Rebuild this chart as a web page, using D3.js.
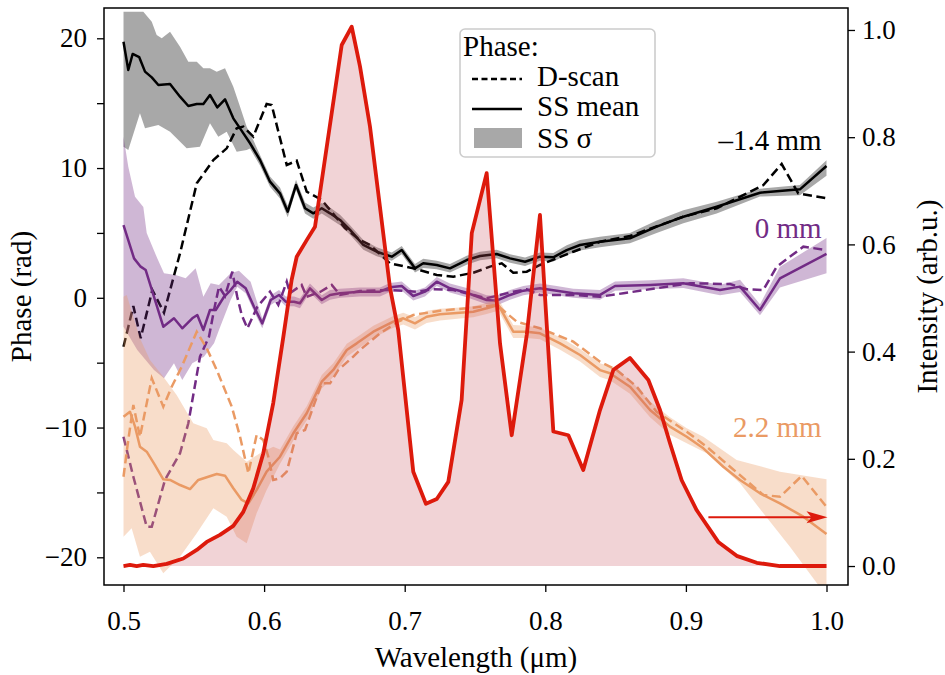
<!DOCTYPE html>
<html>
<head>
<meta charset="utf-8">
<script src="https://cdn.jsdelivr.net/npm/d3@7"></script>
<style>
html, body { margin: 0; padding: 0; background: #fff; }
svg { display: block; }
</style>
</head>
<body>
<svg id="chart" width="945" height="675"></svg>
<script>
// ticks
const wavelengthTicks = [0.5, 0.6, 0.7, 0.8, 0.9, 1.0];
const phaseTicks = [-20, -15, -10, -5, 0, 5, 10, 15, 20];
const intensityTicks = [0, 0.2, 0.4, 0.6, 0.8, 1.0];

// spectral intensity [wavelength um, intensity]
const intensity = [[0.500,0.000],[0.5046,0.002],[0.5094,0.000],[0.5140,0.002],[0.5212,0.000],[0.5307,0.004],[0.5425,0.014],[0.5521,0.030],[0.5592,0.045],[0.5686,0.058],[0.5781,0.075],[0.5852,0.101],[0.5923,0.145],[0.5994,0.210],[0.6065,0.304],[0.6137,0.428],[0.6196,0.534],[0.6232,0.577],[0.6303,0.608],[0.6362,0.633],[0.6552,0.972],[0.6623,1.006],[0.6682,0.932],[0.6753,0.820],[0.6895,0.520],[0.6954,0.440],[0.7061,0.176],[0.7151,0.116],[0.7228,0.125],[0.7310,0.157],[0.7405,0.310],[0.7477,0.621],[0.7583,0.733],[0.7678,0.415],[0.7761,0.244],[0.7868,0.431],[0.7962,0.655],[0.8057,0.251],[0.8164,0.244],[0.8270,0.179],[0.8389,0.291],[0.8484,0.366],[0.8602,0.388],[0.8733,0.347],[0.8816,0.291],[0.8887,0.229],[0.8970,0.160],[0.9077,0.104],[0.9230,0.045],[0.9361,0.019],[0.9504,0.006],[0.9669,0.000],[1.000,0.000]];

// -1.4 mm
const blackMean = [[0.500,19.74],[0.5034,17.56],[0.5065,18.79],[0.5112,18.54],[0.5153,17.43],[0.5201,16.99],[0.5248,16.40],[0.5331,16.48],[0.5402,15.50],[0.5461,14.78],[0.5521,14.94],[0.5568,14.94],[0.5615,15.63],[0.5667,14.68],[0.5722,15.30],[0.5781,13.83],[0.5829,13.06],[0.5900,11.91],[0.5971,10.62],[0.6042,8.95],[0.6113,8.05],[0.6168,6.64],[0.6227,8.69],[0.6291,6.90],[0.6350,6.51],[0.6410,6.90],[0.6469,6.51],[0.6540,6.00],[0.6611,5.23],[0.6706,4.07],[0.6801,3.55],[0.6908,3.17],[0.6979,3.68],[0.7073,2.27],[0.7132,2.66],[0.7228,2.53],[0.7322,2.27],[0.7441,2.91],[0.7536,3.22],[0.7654,3.38],[0.7749,3.04],[0.7856,2.78],[0.7962,3.17],[0.8057,3.12],[0.8152,3.68],[0.8247,4.07],[0.8389,4.32],[0.8602,4.59],[0.8792,5.48],[0.8982,6.25],[0.9219,7.02],[0.9527,8.10],[0.9811,8.36],[1.000,10.16]];
const blackDscan = [[0.500,-3.77],[0.5070,-0.63],[0.5122,-3.12],[0.5205,0.60],[0.5288,-1.15],[0.5402,3.43],[0.5521,8.82],[0.5639,10.62],[0.5734,11.52],[0.5805,13.06],[0.5852,13.19],[0.5923,12.42],[0.6018,14.94],[0.6054,14.86],[0.6161,10.23],[0.6232,10.57],[0.6303,8.18],[0.6410,7.54],[0.6469,6.77],[0.6575,5.38],[0.6682,4.45],[0.6753,4.07],[0.6895,2.66],[0.7061,2.27],[0.7228,1.76],[0.7346,1.63],[0.7488,1.93],[0.7607,2.40],[0.7690,2.66],[0.7772,1.93],[0.7868,2.01],[0.7962,2.53],[0.8081,3.04],[0.8199,3.55],[0.8389,4.32],[0.8602,4.76],[0.8982,6.25],[0.9219,6.90],[0.9551,8.69],[0.9681,10.31],[0.9799,8.05],[1.000,7.67]];
const blackUpper = [[0.500,22.05],[0.5141,22.05],[0.5201,21.28],[0.5236,20.25],[0.5272,20.00],[0.5331,20.51],[0.5402,19.35],[0.5461,18.20],[0.5521,18.20],[0.5568,17.69],[0.5615,17.69],[0.5663,17.43],[0.5722,17.69],[0.5781,16.27],[0.5829,14.73],[0.5876,13.19],[0.5923,12.16],[0.5971,11.00],[0.6042,9.35],[0.6113,8.50],[0.6168,7.10],[0.6227,9.10],[0.6291,7.35],[0.6350,6.95],[0.6410,7.30],[0.6469,6.95],[0.6540,6.40],[0.6611,5.60],[0.6706,4.45],[0.6801,3.90],[0.6908,3.50],[0.6979,4.00],[0.7073,2.60],[0.7132,3.00],[0.7228,2.85],[0.7322,2.60],[0.7441,3.25],[0.7536,3.55],[0.7654,3.70],[0.7749,3.35],[0.7856,3.10],[0.7962,3.50],[0.8057,3.45],[0.8152,4.05],[0.8247,4.45],[0.8389,4.70],[0.8602,5.00],[0.8792,5.95],[0.8982,6.75],[0.9219,7.40],[0.9527,8.40],[0.9811,8.70],[1.000,10.60]];
const blackLower = [[0.500,11.65],[0.5034,11.39],[0.5117,14.22],[0.5153,13.06],[0.5248,13.32],[0.5331,12.80],[0.5449,11.52],[0.5544,11.65],[0.5615,13.45],[0.5674,12.42],[0.5734,12.80],[0.5805,11.26],[0.5876,11.39],[0.5900,11.50],[0.5971,10.20],[0.6042,8.55],[0.6113,7.65],[0.6168,6.20],[0.6227,8.30],[0.6291,6.50],[0.6350,6.10],[0.6410,6.50],[0.6469,6.10],[0.6540,5.60],[0.6611,4.85],[0.6706,3.70],[0.6801,3.20],[0.6908,2.85],[0.6979,3.35],[0.7073,1.95],[0.7132,2.30],[0.7228,2.20],[0.7322,1.95],[0.7441,2.55],[0.7536,2.90],[0.7654,3.05],[0.7749,2.70],[0.7856,2.45],[0.7962,2.85],[0.8057,2.80],[0.8152,3.30],[0.8247,3.65],[0.8389,3.90],[0.8602,4.20],[0.8792,5.00],[0.8982,5.75],[0.9219,6.50],[0.9527,7.80],[0.9811,7.90],[1.000,9.40]];

// 0 mm
const purpleMean = [[0.500,5.61],[0.5075,3.04],[0.5122,2.40],[0.5158,2.14],[0.5217,0.08],[0.5283,-2.23],[0.5359,-1.58],[0.5418,-2.35],[0.5489,-1.58],[0.5525,-1.33],[0.5568,-2.48],[0.5615,-0.94],[0.5656,-0.94],[0.5715,0.08],[0.5762,0.60],[0.5809,1.24],[0.5869,0.73],[0.5928,-0.69],[0.5987,-1.97],[0.6047,-0.17],[0.6106,0.22],[0.6154,-0.30],[0.6213,-0.30],[0.6255,-0.42],[0.6326,0.73],[0.6410,-0.17],[0.6469,0.22],[0.6540,0.35],[0.6682,0.47],[0.6824,0.47],[0.6895,0.81],[0.6979,0.91],[0.7061,0.14],[0.7144,0.47],[0.7228,1.24],[0.7322,0.73],[0.7441,0.39],[0.7583,-0.17],[0.7654,-0.22],[0.7749,0.22],[0.7844,0.55],[0.7962,0.73],[0.8081,0.55],[0.8199,0.35],[0.8389,0.22],[0.8496,0.91],[0.8745,0.99],[0.8982,1.12],[0.9243,0.60],[0.9385,0.86],[0.9527,-0.94],[0.9669,1.50],[1.000,3.38]];
const purpleDscan = [[0.500,-10.71],[0.5070,-13.79],[0.5165,-17.64],[0.5201,-17.64],[0.5295,-14.04],[0.5402,-11.98],[0.5461,-9.67],[0.5544,-4.54],[0.5608,-3.00],[0.5644,-0.94],[0.5679,0.86],[0.5722,0.14],[0.5774,2.01],[0.5809,0.08],[0.5841,-1.33],[0.5881,-2.35],[0.5952,-0.69],[0.6042,0.47],[0.6101,-0.55],[0.6161,1.24],[0.6184,0.35],[0.6267,0.99],[0.6303,0.08],[0.6398,0.45],[0.6481,0.99],[0.6540,0.22],[0.6682,0.52],[0.6895,0.60],[0.7085,0.47],[0.7203,0.66],[0.7346,0.60],[0.7583,-0.04],[0.7772,0.47],[0.7868,0.66],[0.7962,0.22],[0.8199,0.22],[0.8389,0.08],[0.8555,0.35],[0.9029,1.12],[0.9314,1.06],[0.9432,0.66],[0.9550,0.60],[0.9646,2.40],[0.9835,3.94],[1.000,3.68]];
const purpleUpper = [[0.500,12.42],[0.5034,10.10],[0.5082,7.79],[0.5141,7.00],[0.5165,5.00],[0.5240,3.04],[0.5288,1.89],[0.5371,1.76],[0.5442,1.50],[0.5513,2.27],[0.5568,0.08],[0.5620,1.12],[0.5679,0.99],[0.5762,1.89],[0.5821,2.09],[0.5904,1.24],[0.5987,-1.60],[0.6047,0.20],[0.6106,0.60],[0.6154,0.10],[0.6213,0.10],[0.6255,-0.05],[0.6326,1.10],[0.6410,0.20],[0.6469,0.60],[0.6540,0.70],[0.6682,0.80],[0.6824,0.80],[0.6895,1.15],[0.6979,1.25],[0.7061,0.50],[0.7144,0.80],[0.7228,1.60],[0.7322,1.10],[0.7441,0.75],[0.7583,0.20],[0.7654,0.15],[0.7749,0.60],[0.7844,0.90],[0.7962,1.10],[0.8081,0.90],[0.8199,0.70],[0.8389,0.60],[0.8496,1.25],[0.8745,1.35],[0.8982,1.50],[0.9243,1.00],[0.9385,1.40],[0.9527,-0.50],[0.9669,2.40],[1.000,4.60]];
const purpleLower = [[0.500,-2.23],[0.5098,-4.02],[0.5217,-5.56],[0.5288,-6.20],[0.5359,-5.05],[0.5418,-6.34],[0.5489,-5.05],[0.5572,-4.54],[0.5644,-3.51],[0.5679,-2.48],[0.5762,-0.17],[0.5809,0.86],[0.5869,0.35],[0.5928,-1.05],[0.5987,-2.35],[0.6047,-0.55],[0.6106,-0.15],[0.6154,-0.65],[0.6213,-0.65],[0.6255,-0.80],[0.6326,0.40],[0.6410,-0.50],[0.6469,-0.15],[0.6540,0.00],[0.6682,0.10],[0.6824,0.10],[0.6895,0.45],[0.6979,0.55],[0.7061,-0.20],[0.7144,0.10],[0.7228,0.90],[0.7322,0.40],[0.7441,0.05],[0.7583,-0.50],[0.7654,-0.60],[0.7749,-0.15],[0.7844,0.20],[0.7962,0.40],[0.8081,0.20],[0.8199,0.00],[0.8389,-0.15],[0.8496,0.55],[0.8745,0.65],[0.8982,0.75],[0.9243,0.20],[0.9385,0.45],[0.9527,-1.35],[0.9669,0.80],[1.000,1.90]];

// 2.2 mm
const orangeMean = [[0.500,-9.16],[0.5046,-8.78],[0.5082,-9.93],[0.5117,-11.48],[0.5165,-11.86],[0.5224,-12.89],[0.5283,-13.99],[0.5331,-14.04],[0.5402,-14.43],[0.5473,-14.74],[0.5532,-14.04],[0.5592,-13.83],[0.5663,-13.58],[0.5722,-13.71],[0.5781,-14.68],[0.5841,-15.58],[0.5888,-15.84],[0.5947,-14.81],[0.6018,-13.40],[0.6113,-12.25],[0.6208,-10.44],[0.6303,-8.90],[0.6410,-6.47],[0.6492,-5.56],[0.6588,-4.02],[0.6659,-3.51],[0.6777,-2.61],[0.6919,-1.84],[0.6990,-1.58],[0.7073,-1.97],[0.7156,-1.46],[0.7251,-1.27],[0.7393,-1.15],[0.7488,-1.07],[0.7583,-0.81],[0.7666,-0.55],[0.7772,-2.61],[0.7868,-2.61],[0.7962,-2.74],[0.8105,-3.51],[0.8247,-4.41],[0.8389,-5.57],[0.8460,-5.82],[0.8602,-6.85],[0.8745,-8.65],[0.8887,-9.93],[0.9006,-10.71],[0.9124,-11.60],[0.9266,-13.02],[0.9385,-14.04],[0.9527,-15.07],[0.9669,-15.84],[0.9835,-16.87],[1.000,-18.20]];
const orangeDscan = [[0.500,-13.79],[0.5034,-10.96],[0.5070,-8.26],[0.5117,-10.71],[0.5201,-6.20],[0.5283,-8.39],[0.5343,-6.85],[0.5414,-5.31],[0.5521,-2.61],[0.5592,-3.89],[0.5663,-5.56],[0.5770,-8.39],[0.5829,-10.71],[0.5888,-13.53],[0.5947,-10.57],[0.5994,-10.96],[0.6030,-12.25],[0.6065,-14.04],[0.6113,-13.91],[0.6161,-13.40],[0.6232,-10.44],[0.6291,-10.19],[0.6350,-8.39],[0.6410,-6.59],[0.6469,-6.59],[0.6528,-5.56],[0.6634,-4.54],[0.6682,-4.02],[0.6824,-2.74],[0.6954,-1.84],[0.7061,-1.33],[0.7251,-0.99],[0.7441,-0.81],[0.7654,-0.55],[0.7797,-1.84],[0.7962,-2.35],[0.8199,-3.38],[0.8389,-4.92],[0.8508,-5.56],[0.8650,-6.85],[0.8792,-8.78],[0.9006,-10.32],[0.9148,-11.48],[0.9314,-13.02],[0.9551,-15.20],[0.9669,-15.33],[0.9824,-13.73],[1.000,-16.12]];
const orangeUpper = [[0.500,0.08],[0.5023,0.22],[0.5117,-3.12],[0.5188,-4.79],[0.5283,-6.08],[0.5378,-7.49],[0.5496,-9.67],[0.5592,-10.06],[0.5639,-10.96],[0.5734,-11.21],[0.5781,-11.73],[0.5876,-12.63],[0.5971,-11.98],[0.6065,-11.48],[0.6113,-11.70],[0.6208,-9.90],[0.6303,-8.35],[0.6410,-5.95],[0.6492,-5.05],[0.6588,-3.55],[0.6659,-3.05],[0.6777,-2.15],[0.6919,-1.40],[0.6990,-1.15],[0.7073,-1.50],[0.7156,-1.00],[0.7251,-0.85],[0.7393,-0.75],[0.7488,-0.65],[0.7583,-0.40],[0.7666,-0.10],[0.7772,-2.10],[0.7868,-2.15],[0.7962,-2.30],[0.8105,-3.05],[0.8247,-3.95],[0.8389,-5.05],[0.8460,-5.30],[0.8602,-6.30],[0.8745,-8.00],[0.8887,-9.20],[0.9006,-10.06],[0.9124,-10.71],[0.9361,-12.50],[0.9669,-13.40],[1.000,-13.99]];
const orangeLower = [[0.500,-18.41],[0.5058,-17.76],[0.5117,-19.95],[0.5188,-19.57],[0.5283,-21.23],[0.5402,-19.95],[0.5521,-18.15],[0.5639,-16.22],[0.5734,-16.87],[0.5805,-18.41],[0.5876,-18.92],[0.5947,-16.61],[0.6018,-14.81],[0.6113,-12.80],[0.6208,-11.00],[0.6303,-9.45],[0.6410,-7.00],[0.6492,-6.10],[0.6588,-4.55],[0.6659,-4.00],[0.6777,-3.10],[0.6919,-2.30],[0.6990,-2.05],[0.7073,-2.45],[0.7156,-1.95],[0.7251,-1.75],[0.7393,-1.60],[0.7488,-1.50],[0.7583,-1.25],[0.7666,-1.00],[0.7772,-3.10],[0.7868,-3.10],[0.7962,-3.20],[0.8105,-4.00],[0.8247,-4.90],[0.8389,-6.10],[0.8460,-6.35],[0.8602,-7.40],[0.8745,-9.20],[0.8887,-10.55],[0.9006,-11.21],[0.9148,-11.98],[0.9385,-14.30],[0.9551,-16.61],[0.9740,-19.18],[1.000,-23.00]];

// arrow pointing to the intensity axis
const arrowSpan = [0.916, 1.0];
const arrowLevel = 0.091;

const groups = [
	{ name: '–1.4 mm', color: '#000000', band: '#000000', mean: blackMean, dscan: blackDscan, upper: blackUpper, lower: blackLower, labelAt: [0.9965, 11.39] },
	{ name: '0 mm', color: '#722b85', band: '#722b85', mean: purpleMean, dscan: purpleDscan, upper: purpleUpper, lower: purpleLower, labelAt: [0.9965, 4.61] },
	{ name: '2.2 mm', color: '#ea9a64', band: '#ea9a64', mean: orangeMean, dscan: orangeDscan, upper: orangeUpper, lower: orangeLower, labelAt: [0.9965, -10.73] }
];

const config = {
	left: 104, right: 848, top: 8, bottom: 585,
	tickFont: 27,
	font: 29,
	family: "'Liberation Serif', 'Times New Roman', 'DejaVu Serif', serif",
	red: '#dd1a0c',
	lw: 2.5
};

const svg = d3.select('#chart').attr('font-family', config.family);

const x = d3.scaleLinear().domain([0.48613, 1.01529]).range([config.left, config.right]);
const yPhase = d3.scaleLinear().domain([-22.135, 22.335]).range([config.bottom, config.top]);
const yInt = d3.scaleLinear().domain([-0.0354, 1.041]).range([config.bottom, config.top]);

svg.append('defs').append('clipPath').attr('id', 'plot-clip')
	.append('rect')
	.attr('x', config.left).attr('y', config.top)
	.attr('width', config.right - config.left).attr('height', config.bottom - config.top);

const plot = svg.append('g').attr('clip-path', 'url(#plot-clip)');

const phaseLine = d3.line().x(d => x(d[0])).y(d => yPhase(d[1]));

// phase curves, group by group
for (const g of groups) {
	const poly = g.upper.concat(g.lower.slice().reverse());
	plot.append('path')
		.attr('d', phaseLine(poly) + 'Z')
		.attr('fill', g.band)
		.attr('fill-opacity', 0.34)
		.attr('stroke', 'none');
	plot.append('path')
		.attr('d', phaseLine(g.mean))
		.attr('fill', 'none')
		.attr('stroke', g.color)
		.attr('stroke-width', config.lw)
		.attr('stroke-linejoin', 'round');
	plot.append('path')
		.attr('d', phaseLine(g.dscan))
		.attr('fill', 'none')
		.attr('stroke', g.color)
		.attr('stroke-width', config.lw)
		.attr('stroke-dasharray', '9,4.5');
}

// intensity (twin axis, drawn on top)
const intArea = d3.area().x(d => x(d[0])).y0(yInt(0)).y1(d => yInt(d[1]));
const intLine = d3.line().x(d => x(d[0])).y(d => yInt(d[1]));
plot.append('path')
	.attr('d', intArea(intensity))
	.attr('fill', '#c8505a')
	.attr('fill-opacity', 0.25);
plot.append('path')
	.attr('d', intLine(intensity))
	.attr('fill', 'none')
	.attr('stroke', config.red)
	.attr('stroke-width', 3.8)
	.attr('stroke-linejoin', 'round');

// arrow
const ay = yInt(arrowLevel);
const ax0 = x(arrowSpan[0]), ax1 = x(arrowSpan[1]);
svg.append('line')
	.attr('x1', ax0).attr('x2', ax1 - 8).attr('y1', ay).attr('y2', ay)
	.attr('stroke', config.red).attr('stroke-width', 2);
svg.append('path')
	.attr('d', `M${ax1 + 1},${ay} L${ax1 - 20},${ay - 6} L${ax1 - 15},${ay} L${ax1 - 20},${ay + 6} Z`)
	.attr('fill', config.red);

// group labels
svg.append('g').selectAll('text')
	.data(groups)
	.enter()
	.append('text')
	.attr('x', d => x(d.labelAt[0]))
	.attr('y', d => yPhase(d.labelAt[1]))
	.attr('text-anchor', 'end')
	.attr('font-family', config.family)
	.attr('font-size', config.font)
	.attr('fill', d => d.color)
	.text(d => d.name);

// axes
function styleAxis(sel) {
	sel.attr('font-family', config.family);
	sel.select('.domain').remove();
	sel.selectAll('.tick line').attr('stroke', '#000').attr('stroke-width', 1.3);
	sel.selectAll('.tick text').attr('font-size', config.tickFont).attr('fill', '#000')
		.attr('font-family', config.family);
}

const fmtPhase = d => d % 10 === 0 ? (d < 0 ? '−' + Math.abs(d) : String(d)) : '';

svg.append('g')
	.attr('transform', `translate(${config.left},0)`)
	.call(d3.axisLeft(yPhase).tickValues(phaseTicks).tickFormat(fmtPhase).tickSize(7).tickPadding(10))
	.call(styleAxis);

svg.append('g')
	.attr('transform', `translate(${config.right},0)`)
	.call(d3.axisRight(yInt).tickValues(intensityTicks).tickFormat(d3.format('.1f')).tickSize(7).tickPadding(7))
	.call(styleAxis);

svg.append('g')
	.attr('transform', `translate(0,${config.bottom})`)
	.call(d3.axisBottom(x).tickValues(wavelengthTicks).tickFormat(d3.format('.1f')).tickSize(7).tickPadding(19))
	.call(styleAxis);

// frame
svg.append('rect')
	.attr('x', config.left).attr('y', config.top)
	.attr('width', config.right - config.left).attr('height', config.bottom - config.top)
	.attr('fill', 'none').attr('stroke', '#000').attr('stroke-width', 1.5);

// axis titles
const title = (sel) => sel.attr('text-anchor', 'middle').attr('font-size', config.font).attr('font-family', config.family);
svg.append('text')
	.attr('x', (config.left + config.right) / 2).attr('y', 667)
	.call(title)
	.text('Wavelength (μm)');
svg.append('text')
	.attr('transform', `translate(31, ${(config.top + config.bottom) / 2}) rotate(-90)`)
	.call(title)
	.text('Phase (rad)');
svg.append('text')
	.attr('transform', `translate(937, ${(config.top + config.bottom) / 2}) rotate(-90)`)
	.call(title)
	.text('Intensity (arb.u.)');

// legend
const legend = svg.append('g').attr('font-family', config.family);
legend.append('rect')
	.attr('x', 460).attr('y', 29).attr('width', 195).attr('height', 128)
	.attr('rx', 5).attr('fill', '#fff').attr('fill-opacity', 0.85)
	.attr('stroke', '#cccccc').attr('stroke-width', 1.6);
legend.append('text').attr('x', 463).attr('y', 56).attr('font-size', config.font).text('Phase:');
const legendRows = [
	{ label: 'D-scan', kind: 'dash', y: 86 },
	{ label: 'SS mean', kind: 'line', y: 116 },
	{ label: 'SS σ', kind: 'patch', y: 148 }
];
for (const r of legendRows) {
	if (r.kind === 'patch') {
		legend.append('rect').attr('x', 474).attr('y', r.y - 20).attr('width', 48).attr('height', 20)
			.attr('fill', '#000').attr('fill-opacity', 0.34);
	} else {
		legend.append('line').attr('x1', 472).attr('x2', 522).attr('y1', r.y - 7).attr('y2', r.y - 7)
			.attr('stroke', '#000').attr('stroke-width', config.lw)
			.attr('stroke-dasharray', r.kind === 'dash' ? '6,3.5' : null);
	}
	legend.append('text').attr('x', 537).attr('y', r.y).attr('font-size', config.font).text(r.label);
}
</script>
</body>
</html>
